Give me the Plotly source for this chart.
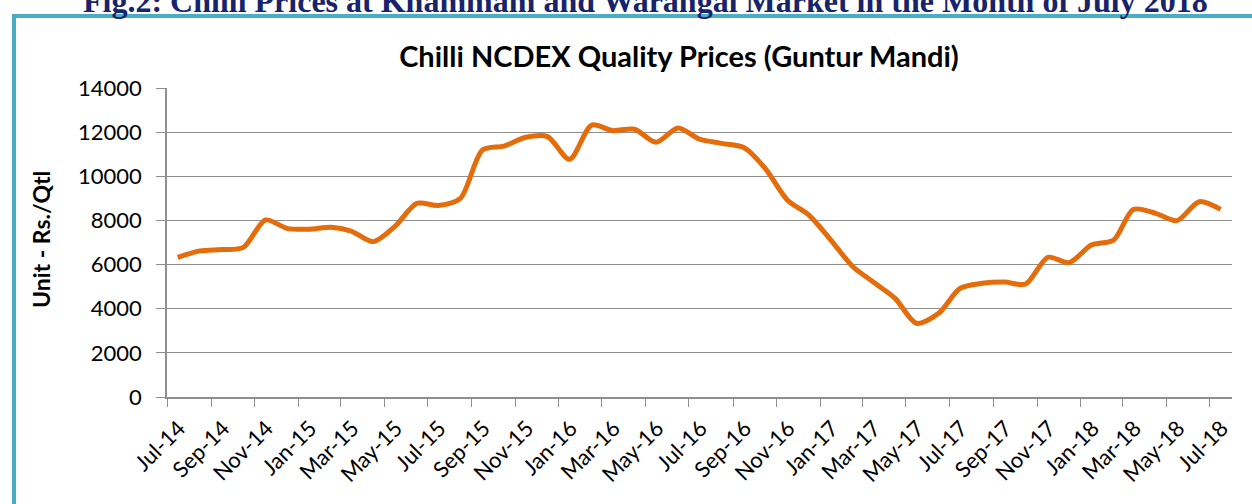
import plotly.graph_objects as go

# ---- data ----
months = [
    "2014-07", "2014-08", "2014-09", "2014-10", "2014-11", "2014-12",
    "2015-01", "2015-02", "2015-03", "2015-04", "2015-05", "2015-06",
    "2015-07", "2015-08", "2015-09", "2015-10", "2015-11", "2015-12",
    "2016-01", "2016-02", "2016-03", "2016-04", "2016-05", "2016-06",
    "2016-07", "2016-08", "2016-09", "2016-10", "2016-11", "2016-12",
    "2017-01", "2017-02", "2017-03", "2017-04", "2017-05", "2017-06",
    "2017-07", "2017-08", "2017-09", "2017-10", "2017-11", "2017-12",
    "2018-01", "2018-02", "2018-03", "2018-04", "2018-05", "2018-06",
    "2018-07",
]
prices = [
    6330, 6620, 6680, 6780, 8020, 7640,
    7600, 7690, 7520, 7040, 7720, 8770,
    8680, 9000, 11190, 11370, 11770, 11800,
    10770, 12320, 12070, 12130, 11540, 12190,
    11680, 11490, 11300, 10360, 8930, 8250,
    7110, 5900, 5220, 4470, 3340, 3790,
    4920, 5150, 5210, 5120, 6330, 6090,
    6890, 7110, 8500, 8320, 7990, 8850,
    8500,
]
y_ticks = [0, 2000, 4000, 6000, 8000, 10000, 12000, 14000]

header_text = "Fig.2: Chilli Prices at Khammam and Warangal Market in the Month of July 2018"
chart_title = "Chilli NCDEX Quality Prices (Guntur Mandi)"
y_title = "Unit - Rs./Qtl"

# mid-month positions (Excel date axis, points between tick marks)
x_dates = [m + "-16" for m in months]

ORANGE = "#E46C0A"
GRID = "#8f8f8f"
FONT = "Lato"

fig = go.Figure()
fig.add_trace(go.Scatter(
    x=x_dates, y=prices, mode="lines",
    line=dict(color=ORANGE, width=5, shape="spline", smoothing=0.8),
    hoverinfo="x+y", showlegend=False,
))

fig.update_layout(
    width=1252, height=504,
    margin=dict(l=167, r=20, t=88, b=107, pad=0),
    paper_bgcolor="white", plot_bgcolor="white",
    font=dict(family=FONT, color="#000000", size=22),
    title=dict(
        text="<b>" + chart_title + "</b>",
        x=679 / 1252, xref="container", xanchor="center",
        y=1 - 57 / 504, yref="container", yanchor="middle",
        font=dict(family=FONT, size=29, color="#000000"),
    ),
    xaxis=dict(
        type="date",
        range=["2014-07-01", "2018-08-01"],
        tick0="2014-07-01", dtick="M2", tickformat="%b-%y",
        tickangle=-45,
        showgrid=False, zeroline=False,
        showline=True, linecolor=GRID, linewidth=1.5,
        ticks="outside", ticklen=8, tickcolor=GRID, tickwidth=1,
        tickfont=dict(family=FONT, size=22, color="#000000"),
        ticklabelshift=12,
    ),
    yaxis=dict(
        range=[0, 14000],
        tickvals=y_ticks, ticktext=[str(v) for v in y_ticks],
        showgrid=True, gridcolor=GRID, gridwidth=1.2,
        zeroline=False,
        showline=True, linecolor=GRID, linewidth=1.5,
        ticks="outside", ticklen=9, tickcolor=GRID, tickwidth=1,
        tickfont=dict(family=FONT, size=22, color="#000000"),
        ticklabelstandoff=10,
    ),
)

W, H = 1065.0, 309.0
def px_x(p):
    return (p - 167) / W
def px_y(p):
    return (397 - p) / H

# teal frame (top and left visible)
fig.add_shape(
    type="rect", xref="paper", yref="paper",
    x0=px_x(14), x1=px_x(1300), y0=px_y(16), y1=px_y(560),
    line=dict(color="#4BACC6", width=4), fillcolor="rgba(0,0,0,0)",
    layer="below",
)

# cropped header text above frame
fig.add_annotation(
    text="<b>" + header_text + "</b>",
    xref="paper", yref="paper", x=px_x(645), y=px_y(1),
    xanchor="center", yanchor="middle", showarrow=False,
    font=dict(family="Liberation Serif", size=32, color="#17236B"),
)

# y axis title
fig.add_annotation(
    text="<b>" + y_title + "</b>",
    xref="paper", yref="paper", x=px_x(41), y=px_y(240),
    xanchor="center", yanchor="middle", textangle=-90, showarrow=False,
    font=dict(family=FONT, size=23, color="#000000"),
)

fig.write_html(
    "out.html",
    config={"displayModeBar": False},
    post_script="document.body.style.margin='0';document.body.style.overflow='hidden';",
)
